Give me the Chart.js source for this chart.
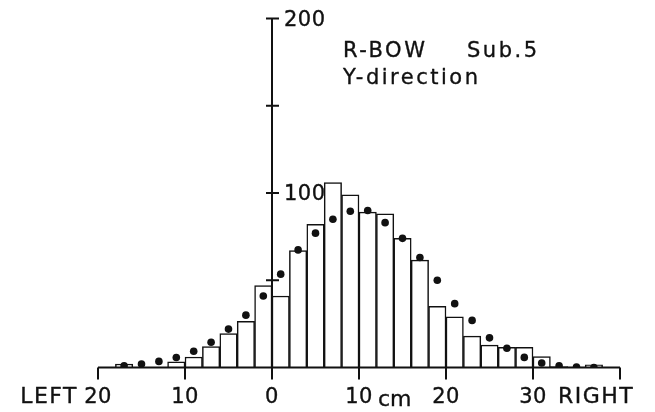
<!DOCTYPE html>
<html>
<head>
<meta charset="utf-8">
<script src="https://cdn.jsdelivr.net/npm/chart.js@4/dist/chart.umd.min.js"></script>
<style>
  html, body { margin: 0; padding: 0; background: #fff; overflow: hidden; }
  canvas { display: block; }
</style>
</head>
<body>
<canvas id="hist" width="655" height="412"></canvas>
<script>
(function () {
  "use strict";

  // histogram bins (2 cm wide), given by their centres
  var binCenters = [-19, -17, -15, -13, -11, -9, -7, -5, -3, -1,
    1, 3, 5, 7, 9, 11, 13, 15, 17, 19,
    21, 23, 25, 27, 29, 31, 33, 35, 37, 39];
  var binCounts = [0, 2, 0, 0, 3.3, 6, 12, 19.5, 26.5, 47,
    41, 67, 82, 106, 99, 89, 88, 74, 61.5, 35,
    29, 18, 12.8, 11.5, 11.5, 6.3, 0.5, 0.3, 1.5, 0];

  // fitted values shown as dots
  var dotX = [-17, -15, -13, -11, -9, -7, -5, -3, -1,
    1, 3, 5, 7, 9, 11, 13, 15, 17, 19,
    21, 23, 25, 27, 29, 31, 33, 35, 37];
  var dotY = [1, 2, 3.5, 5.7, 9.3, 14.5, 22, 30, 41,
    53.5, 67.4, 77, 85, 89.5, 90, 83, 74, 63, 50,
    36.6, 27, 17, 11, 5.8, 2.6, 1, 0.3, 0];

  var xTickValues = [-20, -10, 0, 10, 20, 30, 40];
  var xTickLabels = ["20", "10", "0", "10", "20", "30", ""];
  var yTickValues = [50, 100, 150, 200];
  var yTickLabels = ["", "100", "", "200"];

  var titleLines = ["R-BOW", "Sub.5", "Y-direction"];
  var FONT = '"DejaVu Sans", sans-serif';
  var INK = "#111";

  // fill + thin stroke, to get the slightly heavier plotter-pen look
  function inkText(ctx, s, x, y) {
    ctx.fillText(s, x, y);
    ctx.strokeText(s, x, y);
  }

  var axesPlugin = {
    id: "handAxes",
    afterDatasetsDraw: function (chart) {
      var ctx = chart.ctx;
      var xs = chart.scales.x;
      var ys = chart.scales.y;
      var y0 = ys.getPixelForValue(0);
      var x0 = xs.getPixelForValue(0);
      var i, px, py;

      ctx.save();
      ctx.strokeStyle = INK;
      ctx.fillStyle = INK;
      ctx.lineWidth = 2;
      ctx.lineCap = "butt";

      // x axis + downward ticks
      ctx.beginPath();
      ctx.moveTo(xs.getPixelForValue(xs.min), y0);
      ctx.lineTo(xs.getPixelForValue(xs.max), y0);
      for (i = 0; i < xTickValues.length; i++) {
        px = xs.getPixelForValue(xTickValues[i]);
        ctx.moveTo(px, y0);
        ctx.lineTo(px, y0 + 12);
      }
      ctx.stroke();

      // y axis at x = 0 + crossing ticks
      ctx.beginPath();
      ctx.moveTo(x0, y0);
      ctx.lineTo(x0, ys.getPixelForValue(ys.max));
      for (i = 0; i < yTickValues.length; i++) {
        py = ys.getPixelForValue(yTickValues[i]);
        ctx.moveTo(x0 - 6, py);
        ctx.lineTo(x0 + 7, py);
      }
      ctx.stroke();

      ctx.lineWidth = 0.35;
      ctx.lineJoin = "round";

      // tick labels
      ctx.font = "21px " + FONT;
      ctx.letterSpacing = "0.5px";
      ctx.textAlign = "center";
      ctx.textBaseline = "alphabetic";
      for (i = 0; i < xTickValues.length; i++) {
        if (!xTickLabels[i]) continue;
        px = xs.getPixelForValue(xTickValues[i]);
        inkText(ctx, xTickLabels[i], px, 403);
      }
      ctx.textAlign = "left";
      for (i = 0; i < yTickValues.length; i++) {
        if (!yTickLabels[i]) continue;
        py = ys.getPixelForValue(yTickValues[i]);
        inkText(ctx, yTickLabels[i], x0 + 12, py + 7);
      }

      // axis words
      ctx.font = "22px " + FONT;
      ctx.letterSpacing = "1.5px";
      ctx.textAlign = "right";
      inkText(ctx, "LEFT", 78, 403);
      ctx.textAlign = "left";
      inkText(ctx, "RIGHT", 558, 403);
      ctx.letterSpacing = "0px";
      inkText(ctx, "cm", 378, 406);

      // title
      ctx.font = "21px " + FONT;
      ctx.letterSpacing = "2.5px";
      inkText(ctx, titleLines[0], 343, 57);
      inkText(ctx, titleLines[1], 467, 57);
      inkText(ctx, titleLines[2], 343, 84);
      ctx.restore();
    }
  };

  var bgPlugin = {
    id: "whiteBg",
    beforeDraw: function (chart) {
      var ctx = chart.ctx;
      ctx.save();
      ctx.fillStyle = "#fff";
      ctx.fillRect(0, 0, chart.width, chart.height);
      ctx.restore();
    }
  };

  new Chart(document.getElementById("hist"), {
    type: "bar",
    data: {
      datasets: [
        {
          type: "scatter",
          label: "fit",
          data: dotX.map(function (x, i) { return { x: x, y: dotY[i] }; }),
          backgroundColor: INK,
          borderColor: INK,
          pointRadius: 3.8,
          pointBorderWidth: 0,
          order: 0
        },
        {
          type: "bar",
          label: "count",
          data: binCenters.map(function (x, i) { return { x: x, y: binCounts[i] }; }),
          backgroundColor: "#fff",
          borderColor: INK,
          borderWidth: 1.5,
          barPercentage: 1,
          categoryPercentage: 1,
          order: 1
        }
      ]
    },
    options: {
      responsive: false,
      animation: false,
      layout: { padding: { left: 98, right: 35, top: 18.5, bottom: 44.5 } },
      plugins: {
        legend: { display: false },
        tooltip: { enabled: false }
      },
      scales: {
        x: { type: "linear", min: -20, max: 40, offset: false, display: false },
        y: { type: "linear", min: 0, max: 200, display: false }
      }
    },
    plugins: [bgPlugin, axesPlugin]
  });
})();
</script>
</body>
</html>
